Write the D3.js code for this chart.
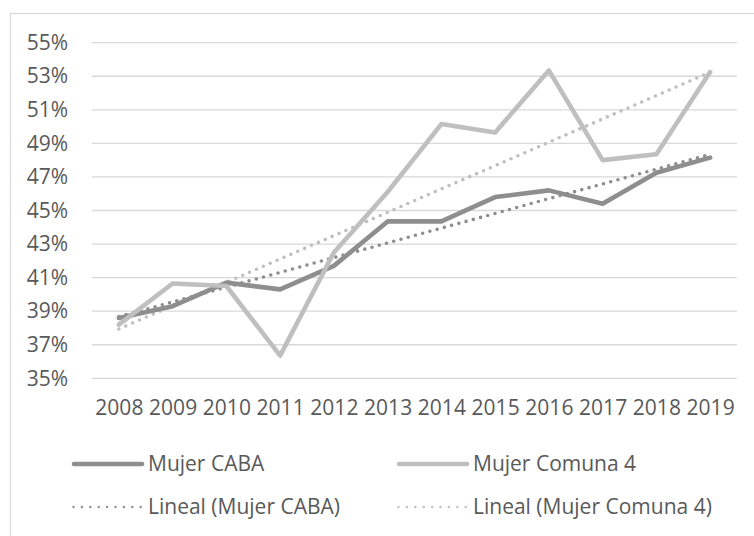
<!DOCTYPE html>
<html>
<head>
<meta charset="utf-8">
<script src="https://cdn.jsdelivr.net/npm/d3@7"></script>
<style>
  html, body { margin: 0; padding: 0; background: #ffffff; }
  svg { display: block; }
  text { font-family: "Open Sans", "Noto Sans", sans-serif; fill: #595959; }
</style>
</head>
<body>
<div id="chart"></div>
<script>
// ---- data ----
const years = ["2008","2009","2010","2011","2012","2013","2014","2015","2016","2017","2018","2019"];
const mujerCABA    = [38.6, 39.3, 40.7, 40.3, 41.7, 44.35, 44.35, 45.8, 46.2, 45.4, 47.25, 48.15];
const mujerComuna4 = [38.2, 40.65, 40.5, 36.35, 42.5, 46.1, 50.15, 49.65, 53.35, 48.0, 48.35, 53.25];
const yTicks = [35, 37, 39, 41, 43, 45, 47, 49, 51, 53, 55];
const seriesNames = ["Mujer CABA", "Mujer Comuna 4", "Lineal (Mujer CABA)", "Lineal (Mujer Comuna 4)"];

// ---- layout ----
const W = 754, H = 536;
const plot = { left: 92, right: 737, top: 42.7, bottom: 378.3 };
const darkGray = "#8e8e8e", lightGray = "#bfbfbf";
const fontSize = 21;

const svg = d3.select("#chart").append("svg").attr("width", W).attr("height", H);

// chart frame
svg.append("rect").attr("x", 10.5).attr("y", 13.5).attr("width", W + 10).attr("height", H + 10)
  .attr("fill", "none").attr("stroke", "#d9d9d9").attr("stroke-width", 1.2);

const x = d3.scalePoint().domain(years).range([plot.left, plot.right]).padding(0.5);
const y = d3.scaleLinear().domain([35, 55]).range([plot.bottom, plot.top]);

// gridlines
svg.append("g").selectAll("line").data(yTicks).join("line")
  .attr("x1", plot.left).attr("x2", plot.right)
  .attr("y1", d => y(d)).attr("y2", d => y(d))
  .attr("stroke", "#d9d9d9").attr("stroke-width", 1.3);

// y axis labels
const yAxis = d3.axisLeft(y).tickValues(yTicks).tickFormat(d => d + "%").tickSize(0).tickPadding(0);
const gy = svg.append("g").attr("transform", `translate(68,0)`).call(yAxis);
gy.select(".domain").remove();
gy.selectAll("text").attr("font-size", fontSize).attr("fill", "#595959")
  .style("font-family", '"Open Sans", sans-serif');

// x axis labels
const xAxis = d3.axisBottom(x).tickSize(0).tickPadding(0);
const gx = svg.append("g").attr("transform", `translate(0,400)`).call(xAxis);
gx.select(".domain").remove();
gx.selectAll("text").attr("font-size", fontSize).attr("fill", "#595959")
  .style("font-family", '"Open Sans", sans-serif');

// linear trend (least squares, as the "Lineal" trendline)
function trend(vals) {
  const n = vals.length, xs = d3.range(n);
  const mx = d3.mean(xs), my = d3.mean(vals);
  const sxy = d3.sum(xs, i => (i - mx) * (vals[i] - my));
  const sxx = d3.sum(xs, i => (i - mx) * (i - mx));
  const b = sxy / sxx, a = my - b * mx;
  return xs.map(i => a + b * i);
}

const line = d3.line().x((d, i) => x(years[i])).y(d => y(d));

// trend lines (dotted)
svg.append("path").attr("d", line(trend(mujerComuna4)))
  .attr("fill", "none").attr("stroke", lightGray).attr("stroke-width", 3.6)
  .attr("stroke-linecap", "round").attr("stroke-dasharray", "0 7.5");
svg.append("path").attr("d", line(trend(mujerCABA)))
  .attr("fill", "none").attr("stroke", darkGray).attr("stroke-width", 3.6)
  .attr("stroke-linecap", "round").attr("stroke-dasharray", "0 7.5");

// data lines
svg.append("path").attr("d", line(mujerCABA))
  .attr("fill", "none").attr("stroke", darkGray).attr("stroke-width", 4.6)
  .attr("stroke-linejoin", "round").attr("stroke-linecap", "round");
svg.append("path").attr("d", line(mujerComuna4))
  .attr("fill", "none").attr("stroke", lightGray).attr("stroke-width", 4.6)
  .attr("stroke-linejoin", "round").attr("stroke-linecap", "round");

// legend
const legendItems = [
  { name: seriesNames[0], color: darkGray,  dotted: false, x: 72,  y: 464 },
  { name: seriesNames[1], color: lightGray, dotted: false, x: 397, y: 464 },
  { name: seriesNames[2], color: darkGray,  dotted: true,  x: 72,  y: 507 },
  { name: seriesNames[3], color: lightGray, dotted: true,  x: 397, y: 507 }
];
const lg = svg.append("g").selectAll("g").data(legendItems).join("g")
  .attr("transform", d => `translate(${d.x},${d.y})`);
lg.append("line").attr("x1", d => d.dotted ? 1.5 : 2).attr("x2", d => d.dotted ? 71 : 70)
  .attr("y1", 0).attr("y2", 0)
  .attr("stroke", d => d.color)
  .attr("stroke-width", d => d.dotted ? 2.4 : 4.6)
  .attr("stroke-linecap", "round")
  .attr("stroke-dasharray", d => d.dotted ? "0 8.4" : null);
lg.append("text").attr("x", 76).attr("y", 0).attr("dy", "0.35em")
  .attr("font-size", fontSize).text(d => d.name);
</script>
</body>
</html>
